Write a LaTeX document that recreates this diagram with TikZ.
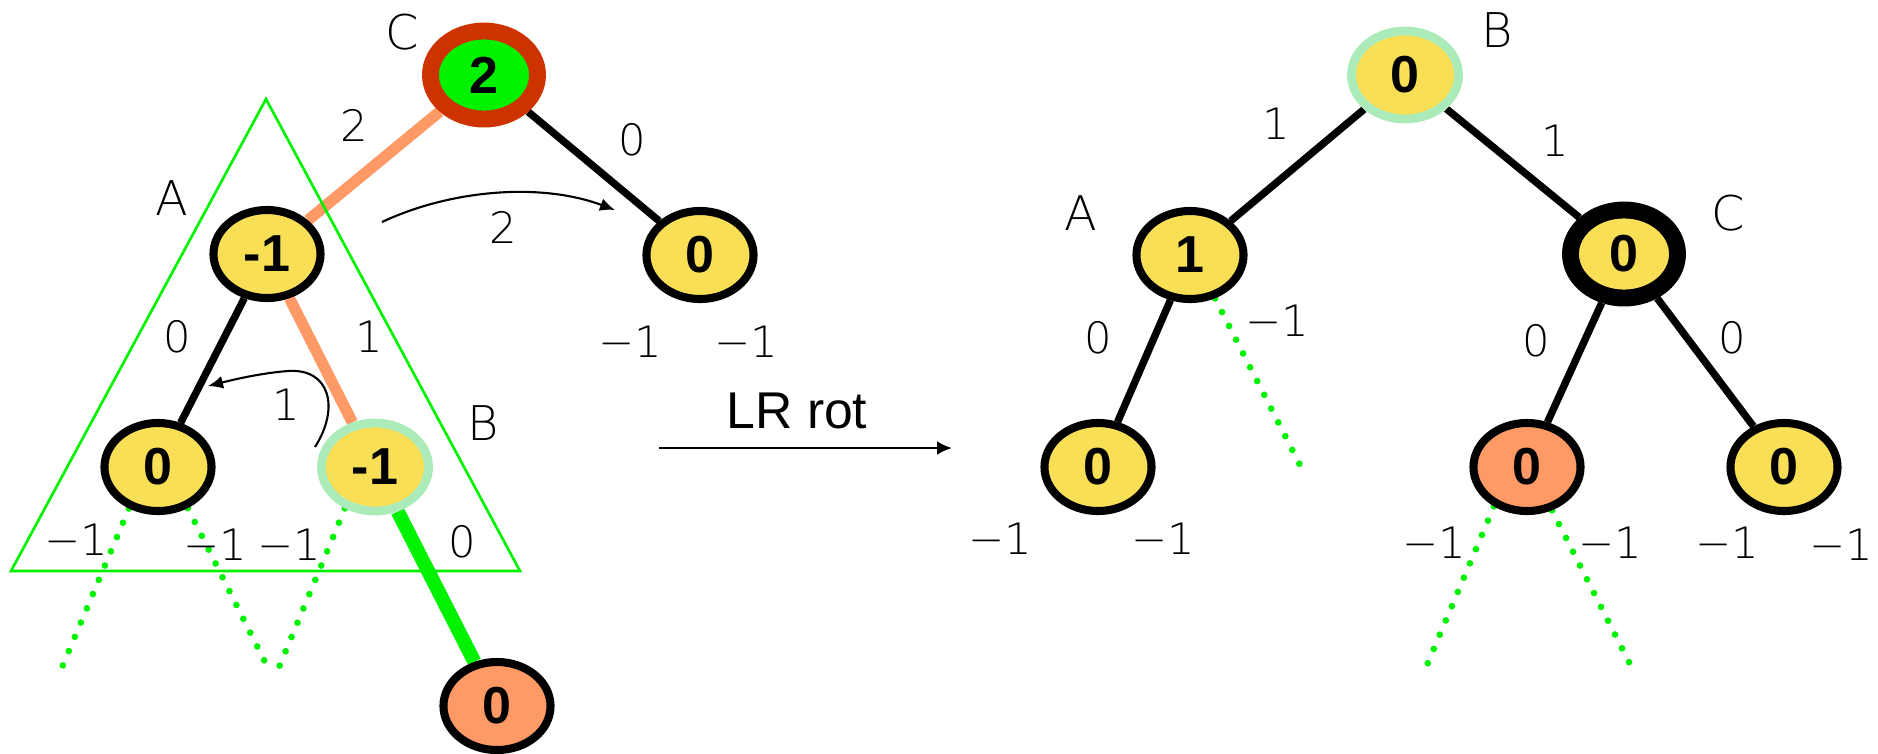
\documentclass[tikz,border=0pt]{standalone}
\usepackage{fontspec}
\setmainfont{Liberation Sans}
\newfontfamily\thinfont{DejaVu Sans ExtraLight}
\usetikzlibrary{arrows.meta,shapes.geometric,backgrounds}
\definecolor{Sun}{HTML}{F9DF56}
\definecolor{Salmon}{HTML}{FF9966}
\definecolor{Rust}{HTML}{CC3300}
\definecolor{Lime}{HTML}{00F200}
\definecolor{Mint}{HTML}{AAEBB9}

\begin{document}
\begin{tikzpicture}[x=0.01cm,y=-0.01cm,
    knot/.style={ellipse,draw=black,line width=2.3pt,fill=Sun,inner sep=0pt,
      minimum width=1.07cm,minimum height=0.88cm,font=\fontsize{14.8}{16}\selectfont\bfseries},
    lbl/.style={font=\thinfont\fontsize{12.3}{14}\selectfont},
    nm/.style={font=\thinfont\fontsize{13.6}{16}\selectfont},
    link/.style={line width=2.1pt},
    dotline/.style={Lime,line width=1.9pt,line cap=round,dash pattern=on 0pt off 4.4pt},
    mover/.style={line width=0.6pt,-{Latex[length=1.5mm,width=1.3mm]}}]
    \useasboundingbox (0,0) rectangle (1878,753);
    % before the rotation
    \node[knot,draw=Rust,line width=4.8pt,fill=Lime] (lC) at (484,75) {2};
    \node[knot] (lA) at (267,254) {-1};
    \node[knot] (lAl) at (158,467) {0};
    \node[knot,draw=Mint,line width=2.5pt] (lB) at (375,467) {-1};
    \node[knot,fill=Salmon] (lBr) at (497,706) {0};
    \node[knot] (lCr) at (700,255) {0};
    \node[nm] (tlC) at (402,32) {C};
    \node[nm] (tlA) at (172,198) {A};
    \node[nm] (tlB) at (483,423) {B};
    \coordinate (d1) at (60,672);
    \coordinate (d2) at (268,668);
    \coordinate (d3) at (277,672);
    \begin{scope}[on background layer]
      \draw[link,Salmon,line width=3.2pt] (lC)--(lA);
      \draw[link] (lC)--(lCr);
      \draw[link] (lA)--(lAl);
      \draw[link,Salmon,line width=3.2pt] (lA)--(lB);
      \draw[link,Lime,line width=4pt] (lB)--(lBr);
      \draw[dotline] (lAl.235)--(d1);
      \draw[dotline] (lAl.306)--(d2);
      \draw[dotline] (lB.234)--(d3);
      \draw[Lime,line width=0.75pt] (266,99)--(520,571)--(11,571)--cycle;
    \end{scope}
    \node[lbl] (h1) at (354,125) {2};
    \node[lbl] (h2) at (632,140) {0};
    \node[lbl] (h3) at (177,337) {0};
    \node[lbl] (h4) at (369,337) {1};
    \node[lbl] (h5) at (462,542) {0};
    \node[lbl] (h6) at (76,540) {−1};
    \node[lbl] (h7) at (215,545) {−1};
    \node[lbl] (h8) at (289,545) {−1};
    \node[lbl] (h9) at (630,342) {−1};
    \node[lbl] (h10) at (746,342) {−1};
    % moves of the subtrees
    \coordinate (m1s) at (382,222);
    \coordinate (m1e) at (615,210);
    \draw[mover] (m1s) .. controls (450,190) and (540,182) .. (m1e);
    \node[lbl] (m1) at (503,227) {2};
    \coordinate (m2s) at (315,447);
    \coordinate (m2e) at (208,386);
    \draw[mover] (m2s) .. controls (340,408) and (330,368) .. (288,371) .. controls (262,373) and (236,379) .. (m2e);
    \node[lbl] (m2) at (286,405) {1};
    % the rotation
    \node[font=\fontsize{14.7}{17}\selectfont,anchor=base] (rot) at (797,428) {LR rot};
    \coordinate (rs) at (659,448);
    \coordinate (re) at (952,448);
    \draw[line width=0.75pt,-{Latex[length=1.5mm,width=1.4mm]}] (rs)--(re);
    % after the rotation
    \node[knot,draw=Mint,line width=2.5pt] (rB) at (1405,75) {0};
    \node[knot] (rA) at (1190,255) {1};
    \node[knot,line width=4.8pt] (rC) at (1624,254) {0};
    \node[knot] (rAl) at (1098,467) {0};
    \node[knot,fill=Salmon] (rCl) at (1527,467) {0};
    \node[knot] (rCr) at (1784,467) {0};
    \node[nm] (trB) at (1497,30) {B};
    \node[nm] (trA) at (1081,213) {A};
    \node[nm] (trC) at (1728,213) {C};
    \coordinate (d4) at (1300,465);
    \coordinate (d5) at (1424,672);
    \coordinate (d6) at (1631,666);
    \begin{scope}[on background layer]
      \draw[link] (rB)--(rA);
      \draw[link] (rB)--(rC);
      \draw[link] (rA)--(rAl);
      \draw[link] (rC)--(rCl);
      \draw[link] (rC)--(rCr);
      \draw[dotline] (rA.300)--(d4);
      \draw[dotline] (rCl.230)--(d5);
      \draw[dotline] (rCl.300)--(d6);
    \end{scope}
    \node[lbl] (k1) at (1276,124) {1};
    \node[lbl] (k2) at (1555,141) {1};
    \node[lbl] (k3) at (1098,338) {0};
    \node[lbl] (k4) at (1277,321) {−1};
    \node[lbl] (k5) at (1536,341) {0};
    \node[lbl] (k6) at (1732,338) {0};
    \node[lbl] (k7) at (1000,539) {−1};
    \node[lbl] (k8) at (1163,539) {−1};
    \node[lbl] (k9) at (1434,543) {−1};
    \node[lbl] (k10) at (1610,543) {−1};
    \node[lbl] (k11) at (1727,543) {−1};
    \node[lbl] (k12) at (1841,545) {−1};
\end{tikzpicture}
\end{document}
